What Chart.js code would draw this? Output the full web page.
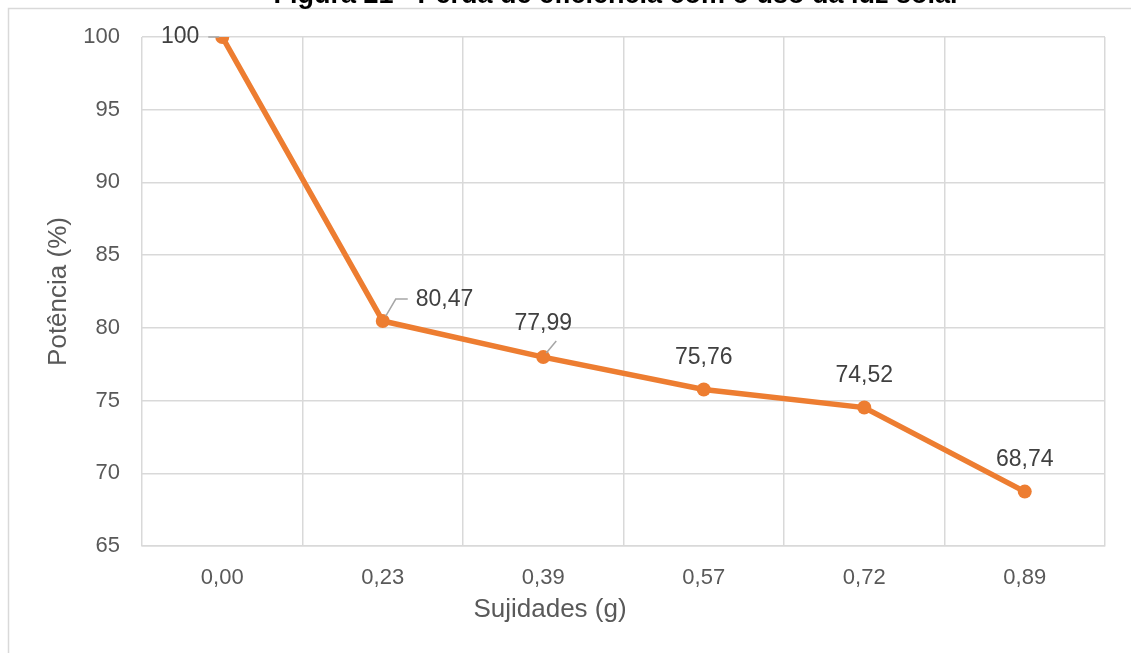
<!DOCTYPE html>
<html>
<head>
<meta charset="utf-8">
<script src="https://cdn.jsdelivr.net/npm/chart.js@4"></script>
<style>
  html, body { margin: 0; padding: 0; background: #fff; overflow: hidden; }
  #wrap { position: relative; width: 1131px; height: 653px; }
</style>
</head>
<body>
<div id="wrap"><canvas id="grafico"></canvas></div>
<script>
// dados
const sujidades = ['0,00', '0,23', '0,39', '0,57', '0,72', '0,89'];
const potencia = [100, 80.47, 77.99, 75.76, 74.52, 68.74];
const rotulos = ['100', '80,47', '77,99', '75,76', '74,52', '68,74'];
const yTicks = [65, 70, 75, 80, 85, 90, 95, 100];

const laranja = '#ED7D31';
const cinzaGrade = '#d9d9d9';
const cinzaTexto = '#595959';
const fonte = '"Liberation Sans", Arial, sans-serif';

// posição dos rótulos em relação ao ponto
const posRotulo = ['esquerda', 'direita', 'acima-linha', 'acima', 'acima', 'acima'];

// moldura, título cortado e títulos dos eixos
const extras = {
    id: 'extras',
    beforeDraw(chart) {
        const ctx = chart.ctx;
        ctx.save();
        ctx.strokeStyle = cinzaGrade;
        ctx.lineWidth = 1.5;
        ctx.strokeRect(8.5, 8.5, 1300, 800);
        ctx.restore();
    },
    afterDraw(chart) {
        const ctx = chart.ctx;
        const area = chart.chartArea;
        ctx.save();
        ctx.fillStyle = '#000';
        ctx.font = 'bold 27px ' + fonte;
        ctx.textAlign = 'center';
        ctx.textBaseline = 'alphabetic';
        ctx.fillText('Figura 21 - Perda de eficiência com o uso da luz solar', 617, 3);

        ctx.fillStyle = cinzaTexto;
        ctx.font = '26px ' + fonte;
        ctx.textBaseline = 'middle';
        ctx.fillText('Sujidades (g)', 550, 610);

        ctx.translate(59, (area.top + area.bottom) / 2);
        ctx.rotate(-Math.PI / 2);
        ctx.fillText('Potência (%)', 0, 0);
        ctx.restore();

        // rótulos de dados
        const meta = chart.getDatasetMeta(0);
        ctx.save();
        ctx.font = '23px ' + fonte;
        ctx.fillStyle = '#404040';
        ctx.strokeStyle = '#a6a6a6';
        ctx.lineWidth = 1.5;
        ctx.textBaseline = 'middle';
        meta.data.forEach((pt, i) => {
            const x = pt.x, y = pt.y;
            const pos = posRotulo[i];
            if (pos === 'esquerda') {
                ctx.textAlign = 'right';
                ctx.fillText(rotulos[i], x - 23, y);
                ctx.beginPath();
                ctx.moveTo(x - 14, y);
                ctx.lineTo(x - 3, y);
                ctx.stroke();
            } else if (pos === 'direita') {
                ctx.textAlign = 'left';
                ctx.fillText(rotulos[i], x + 33, y - 21);
                ctx.beginPath();
                ctx.moveTo(x + 3, y - 5);
                ctx.lineTo(x + 13, y - 22);
                ctx.lineTo(x + 25, y - 22);
                ctx.stroke();
            } else if (pos === 'acima-linha') {
                ctx.textAlign = 'center';
                ctx.fillText(rotulos[i], x, y - 33);
                ctx.beginPath();
                ctx.moveTo(x + 3, y - 4);
                ctx.lineTo(x + 13, y - 16);
                ctx.stroke();
            } else {
                ctx.textAlign = 'center';
                ctx.fillText(rotulos[i], x, y - 32);
            }
        });
        ctx.restore();
    }
};

const ctx = document.getElementById('grafico').getContext('2d');
new Chart(ctx, {
    type: 'line',
    data: {
        labels: sujidades,
        datasets: [{
            data: potencia,
            borderColor: laranja,
            backgroundColor: laranja,
            borderWidth: 5.5,
            pointRadius: 7,
            pointBorderWidth: 0,
            pointBackgroundColor: laranja,
            tension: 0
        }]
    },
    options: {
        responsive: true,
        maintainAspectRatio: false,
        animation: false,
        layout: { padding: { top: 37, right: 26, left: 0, bottom: 0 } },
        plugins: {
            legend: { display: false },
            tooltip: { enabled: false }
        },
        scales: {
            x: {
                offset: true,
                grid: { offset: true, color: cinzaGrade, lineWidth: 1.5, drawTicks: false },
                border: { color: cinzaGrade, width: 1.5 },
                ticks: { color: cinzaTexto, font: { family: fonte, size: 22 }, padding: 19 },
                afterFit(scale) { scale.height = 107; }
            },
            y: {
                min: 65,
                max: 100,
                afterBuildTicks(scale) { scale.ticks = yTicks.map(v => ({ value: v })); },
                grid: { color: cinzaGrade, lineWidth: 1.5, drawTicks: false },
                border: { display: false },
                ticks: { color: cinzaTexto, font: { family: fonte, size: 22 }, padding: 22 },
                afterFit(scale) { scale.width = 142; }
            }
        }
    },
    plugins: [extras]
});
</script>
</body>
</html>
